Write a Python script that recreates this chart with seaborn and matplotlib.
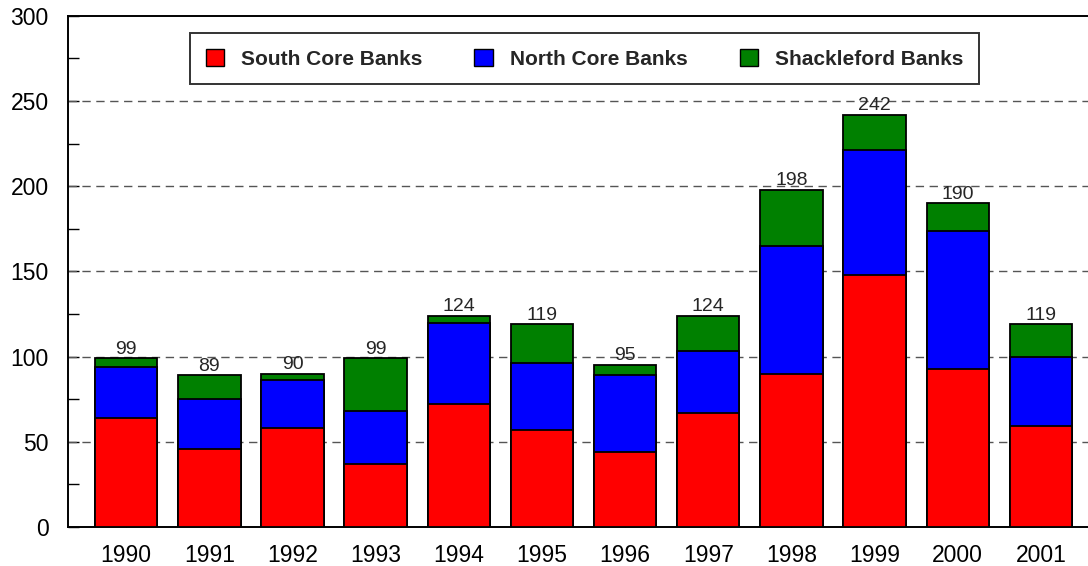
import numpy as np
import pandas as pd
import seaborn as sns
import matplotlib.pyplot as plt
from matplotlib.patches import Patch
from matplotlib.ticker import MultipleLocator

years = ['1990', '1991', '1992', '1993', '1994', '1995',
         '1996', '1997', '1998', '1999', '2000', '2001']
south = [64, 46, 58, 37, 72, 57, 44, 67, 90, 148, 93, 59]
north = [30, 29, 28, 31, 48, 39, 45, 36, 75, 73, 81, 41]
shack = [5, 14, 4, 31, 4, 23, 6, 21, 33, 21, 16, 19]
series = ['South Core Banks', 'North Core Banks', 'Shackleford Banks']
colores = ['#ff0000', '#0000ff', '#008000']

df = pd.DataFrame({'Year': years, 'South': south, 'North': north, 'Shack': shack})
df['SN'] = df.South + df.North
df['Total'] = df.SN + df.Shack

sns.set_style("ticks")
plt.rcParams['font.family'] = ['Liberation Sans', 'DejaVu Sans']

fig = plt.figure(figsize=(10.88, 5.66), dpi=100)
ax = fig.add_axes([0.0625, 0.069, 0.94, 0.903])

# barras apiladas: se dibujan los acumulados de mayor a menor
for col, c in zip(['Total', 'SN', 'South'], colores[::-1]):
    sns.barplot(data=df, x='Year', y=col, color=c, width=0.75,
                edgecolor='black', linewidth=1.3, saturation=1, ax=ax, zorder=3)

for i, t in enumerate(df.Total):
    ax.annotate(str(t), (i, t), xytext=(0, 0.5), textcoords='offset points',
                ha='center', va='bottom', fontsize=14, zorder=4)

ax.set_ylim(0, 300)
ax.set_xlim(-0.7, 11.6)
ax.yaxis.set_minor_locator(MultipleLocator(25))
ax.set_yticks([0, 50, 100, 150, 200, 250, 300])
for y in [50, 100, 150, 200, 250]:
    ax.axhline(y, color='#555555', lw=1, ls=(0, (6, 4)), zorder=1)
ax.tick_params(axis='y', which='both', direction='in', length=8, width=1,
               labelsize=16.5, pad=14, colors='black')
ax.tick_params(axis='x', direction='in', length=12, width=1,
               labelsize=16.5, pad=12, colors='black')
ax.set_xlabel('')
ax.set_ylabel('')
for s in ['left', 'bottom', 'top']:
    ax.spines[s].set_color('black')
    ax.spines[s].set_linewidth(1.4)
ax.spines['right'].set_visible(False)

handles = [Patch(facecolor=c, edgecolor='black', lw=1) for c in colores]
leg = ax.legend(handles, series, loc='upper center', bbox_to_anchor=(0.505, 0.966),
                ncol=3, frameon=True, fancybox=False, edgecolor='black',
                prop={'weight': 'bold', 'size': 15}, handlelength=0.9,
                handleheight=0.9, columnspacing=2.5, borderpad=0.75,
                handletextpad=0.8, borderaxespad=0)
leg.get_frame().set_linewidth(1.4)
leg.set_zorder(5)

fig.savefig('out.png', dpi=100)
